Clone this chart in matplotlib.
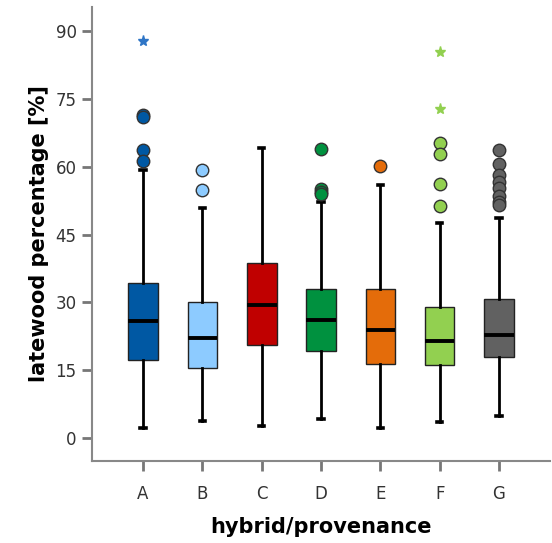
import matplotlib
matplotlib.use("Agg")
import matplotlib.pyplot as plt

# groups and box statistics (latewood %)
groups = ["A", "B", "C", "D", "E", "F", "G"]
colors = ["#0058A3", "#8DCBFF", "#C00000", "#00913F", "#E46C0A", "#92D050", "#616161"]
star_colors = ["#2E75C6", "#8DCBFF", "#C00000", "#00913F", "#E46C0A", "#92D050", "#616161"]

q1 = [17.3, 15.4, 20.6, 19.3, 16.3, 16.2, 17.9]
med = [25.9, 22.1, 29.4, 26.1, 23.8, 21.5, 22.8]
q3 = [34.3, 30.0, 38.7, 33.0, 33.0, 29.0, 30.7]
whislo = [2.2, 3.8, 2.6, 4.2, 2.1, 3.5, 4.9]
whishi = [59.3, 51.0, 64.3, 52.3, 56.0, 47.5, 48.6]

# outliers (circles) and extreme values (stars)
outliers = [
    [71.5, 71.0, 63.7, 61.3],
    [59.4, 54.8],
    [],
    [63.9, 55.2, 54.5, 54.1],
    [60.2],
    [65.4, 62.8, 56.3, 51.3],
    [63.7, 60.6, 58.2, 56.6, 55.4, 53.6, 52.3, 51.5],
]
extremes = [[87.9], [], [], [], [], [85.5, 72.8], []]

fig = plt.figure(figsize=(5.52, 5.43), dpi=100)
ax = fig.add_axes([0.1667, 0.151, 0.8297, 0.836])

stats = []
for i, g in enumerate(groups):
    stats.append(dict(label=g, q1=q1[i], med=med[i], q3=q3[i],
                      whislo=whislo[i], whishi=whishi[i], fliers=[]))

pos = list(range(1, len(groups) + 1))
bp = ax.bxp(stats, positions=pos, widths=0.5, patch_artist=True,
            showfliers=False,
            boxprops=dict(edgecolor="#222222", linewidth=1.0),
            medianprops=dict(color="black", linewidth=2.8),
            whiskerprops=dict(color="black", linewidth=2.0),
            capprops=dict(color="black", linewidth=2.6),
            capwidths=0.09)
for patch, c in zip(bp["boxes"], colors):
    patch.set_facecolor(c)

for i in range(len(groups)):
    if outliers[i]:
        ax.plot([pos[i]] * len(outliers[i]), outliers[i], "o", ms=9,
                mfc=colors[i], mec="#333333", mew=1.0, zorder=3)
    if extremes[i]:
        ax.plot([pos[i]] * len(extremes[i]), extremes[i], "*", ms=8,
                color=star_colors[i], zorder=3)

ax.set_xlim(0.14, 7.86)
ax.set_ylim(-5.1, 95.4)
ax.set_yticks([0, 15, 30, 45, 60, 75, 90])
ax.set_xticks(pos)
ax.set_xticklabels(groups)

for side in ["top", "right"]:
    ax.spines[side].set_visible(False)
for side in ["left", "bottom"]:
    ax.spines[side].set_color("#888888")
    ax.spines[side].set_linewidth(1.5)
ax.tick_params(axis="both", colors="#777777", length=7, width=2,
               labelcolor="#333333", labelsize=12)
ax.tick_params(axis="x", pad=10)
ax.tick_params(axis="y", pad=4)

ax.set_ylabel("latewood percentage [%]", fontsize=15, fontweight="bold", labelpad=5)
ax.set_xlabel("hybrid/provenance", fontsize=15, fontweight="bold", labelpad=10)

fig.savefig("out.png", dpi=100)
